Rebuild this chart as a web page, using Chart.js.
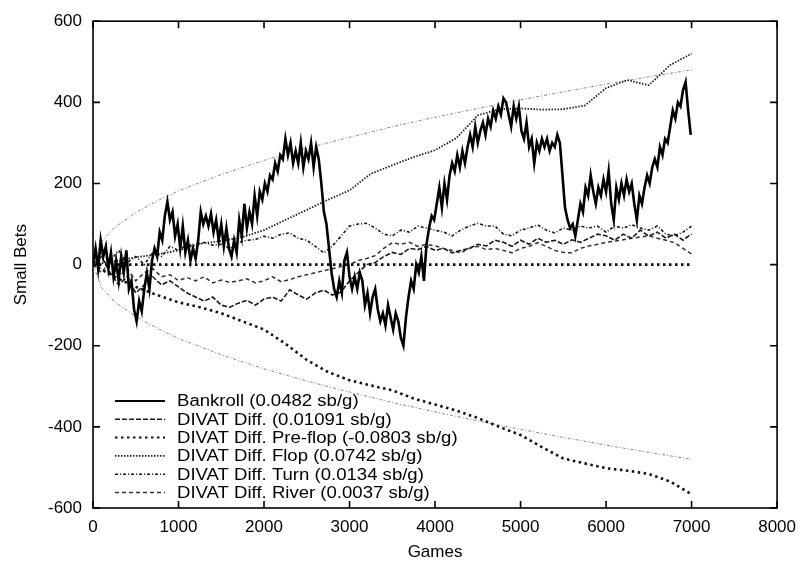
<!DOCTYPE html>
<html>
<head>
<meta charset="utf-8">
<script src="https://cdn.jsdelivr.net/npm/chart.js@4.4.1/dist/chart.umd.min.js"></script>
<style>
  html, body { margin: 0; padding: 0; background: #fff; }
</style>
</head>
<body>
<canvas id="chart" width="805" height="563"></canvas>
<script>
// x ticks / y ticks
const xTicks = [0, 1000, 2000, 3000, 4000, 5000, 6000, 7000, 8000];
const yTicks = [-600, -400, -200, 0, 200, 400, 600];

// bankroll, one value every 30 games
const bankrollStep = 30;
const bankroll = [
  0, 40, -10, 60, 20, 45, -10, 30, -30, 10,
  -40, 20, -20, 35, -60, -40, -110, -140, -90, -115,
  -60, -20, -60, 10, 40, 20, 80, 60, 120, 155,
  110, 130, 70, 100, 40, 95, 30, 60, 10, 40,
  15, 60, 130, 100, 120, 95, 125, 80, 110, 60,
  100, 45, 90, 40, 20, 60, 30, 110, 70, 150,
  90, 130, 100, 170, 120, 180, 160, 200, 180, 220,
  210, 250, 230, 270, 260, 310, 270, 300, 250, 280,
  250, 300, 240, 280, 260, 300, 240, 290, 260, 200,
  130, 100, 40, -20, -60, -80, -40, -70, 10, 30,
  -30, -60, -30, -60, -20, -40, -100, -70, -120, -80,
  -60, -110, -140, -120, -150, -100, -130, -160, -120, -140,
  -180, -200, -130, -80, -40, -60, 0, -20, 20, -40,
  50, 90, 120, 110, 150, 190, 140, 200, 160, 220,
  250, 230, 270, 240, 280, 250, 290, 320, 290, 340,
  300, 330, 350, 320, 360, 340, 380, 360, 390, 370,
  410, 400, 370, 340, 390, 360, 390, 330, 310, 350,
  290, 310, 250, 300, 280, 310, 290, 310, 280, 300,
  290, 320, 300, 220, 140, 110, 90, 100, 70, 110,
  150, 130, 190, 170, 220, 180, 150, 190, 170, 210,
  180, 230, 150, 110, 190, 160, 200, 170, 210, 180,
  200, 150, 110, 170, 150, 190, 220, 200, 240, 260,
  240, 290, 270, 310, 300, 340, 380, 360, 400, 390,
  430, 450, 380, 320
];

// DIVAT series, one value every 100 games
const divatStep = 100;
const divatDiff = [
  0, 20, -20, -50, -30, -70, -50, -30, -50, -40,
  -55, -70, -80, -90, -80, -100, -105, -95, -88, -100,
  -85, -80, -90, -62, -75, -85, -70, -63, -75, -68,
  -40, -20, 0, 5, 20, 30, 25, 40, 37, 45,
  35, 40, 29, 35, 40, 50, 46, 60, 55, 45,
  60, 50, 65, 55, 60, 50, 61, 55, 65, 75,
  71, 60, 75, 65, 85, 70, 80, 65, 75, 60,
  76
];
const divatTurn = [
  0, 30, 10, 35, 5, 20, 0, 30, 20, 45,
  35, 50, 45, 55, 48, 50, 40, 55, 60, 62,
  70, 65, 75, 78, 65, 60, 45, 29, 46, 70,
  95, 100, 102, 90, 75, 71, 85, 80, 95, 90,
  85, 80, 71, 85, 95, 102, 95, 95, 75, 71,
  85, 90, 98, 85, 78, 90, 85, 95, 90, 95,
  80, 95, 90, 98, 90, 85, 95, 75, 71, 80,
  95
];
const divatRiver = [
  0, -20, 10, -30, -10, -40, -20, -10, -30, -25,
  -39, -32, -40, -30, -45, -38, -44, -40, -35, -45,
  -40, -30, -42, -37, -30, -25, -20, -15, -10, -5,
  0, 10, 15, 22, 40, 54, 50, 55, 45, 50,
  46, 40, 35, 29, 40, 45, 37, 40, 35, 29,
  40, 45, 54, 45, 35, 30, 29, 40, 46, 50,
  55, 58, 61, 65, 68, 71, 65, 60, 54, 40,
  26
];

// pre-flop and flop, one value every 250 games
const smoothStep = 250;
const divatPreflop = [
  0, -30, -55, -75, -93, -105, -120, -140, -160, -195,
  -235, -265, -285, -298, -310, -330, -345, -360, -378, -400,
  -420, -450, -478, -490, -502, -508, -516, -535, -566
];
const divatFlop = [
  0, 8, 18, 25, 35, 52, 58, 68, 85, 110,
  135, 160, 183, 224, 245, 265, 282, 312, 368, 383,
  385, 382, 383, 392, 435, 455, 442, 492, 520
];

// +/- one std dev band
const stdGames = [0, 100, 250, 500, 750, 1000, 1500, 2000, 2500, 3000, 3500, 4000, 4500, 5000, 5500, 6000, 6500, 7000];
const stdUpper = [0, 57, 91, 128, 157, 182, 222, 257, 287, 314, 340, 363, 385, 406, 426, 445, 463, 480];
const stdLower = [0, -57, -91, -128, -157, -182, -222, -257, -287, -314, -340, -363, -385, -406, -426, -445, -463, -480];

const zeroGames = [0, 7000];
const zeroLine = [0, 0];

const labels = [
  'Bankroll (0.0482 sb/g)',
  'DIVAT Diff. (0.01091 sb/g)',
  'DIVAT Diff. Pre-flop (-0.0803 sb/g)',
  'DIVAT Diff. Flop (0.0742 sb/g)',
  'DIVAT Diff. Turn (0.0134 sb/g)',
  'DIVAT Diff. River (0.0037 sb/g)'
];

function stepped(values, step) {
  return values.map((v, i) => ({ x: i * step, y: v }));
}
function paired(xs, ys) {
  return xs.map((x, i) => ({ x: x, y: ys[i] }));
}

const FONT = 'Liberation Sans, Arial, Helvetica, sans-serif';

const datasets = [
  { label: labels[0], data: stepped(bankroll, bankrollStep), borderColor: '#000', borderWidth: 2.6, borderDash: [], inLegend: true },
  { label: labels[1], data: stepped(divatDiff, divatStep), borderColor: '#1a1a1a', borderWidth: 1.6, borderDash: [5, 2], inLegend: true },
  { label: labels[2], data: stepped(divatPreflop, smoothStep), borderColor: '#111', borderWidth: 2.6, borderDash: [2.5, 3.5], inLegend: true },
  { label: labels[3], data: stepped(divatFlop, smoothStep), borderColor: '#222', borderWidth: 1.8, borderDash: [1.5, 1.5], inLegend: true },
  { label: labels[4], data: stepped(divatTurn, divatStep), borderColor: '#1a1a1a', borderWidth: 1.6, borderDash: [3, 2, 1, 2], inLegend: true },
  { label: labels[5], data: stepped(divatRiver, divatStep), borderColor: '#333', borderWidth: 1.5, borderDash: [4, 3], inLegend: true },
  { label: 'zero', data: paired(zeroGames, zeroLine), borderColor: '#111', borderWidth: 2.6, borderDash: [2.5, 3.5] },
  { label: 'std+', data: paired(stdGames, stdUpper), borderColor: '#888', borderWidth: 1, borderDash: [3, 2, 1, 2] },
  { label: 'std-', data: paired(stdGames, stdLower), borderColor: '#888', borderWidth: 1, borderDash: [3, 2, 1, 2] }
];
datasets.forEach(d => { d.fill = false; d.pointRadius = 0; d.tension = 0; });

// frame with inward ticks on all four sides
const framePlugin = {
  id: 'frame',
  afterDraw(chart) {
    const ctx = chart.ctx;
    const a = chart.chartArea;
    const xs = chart.scales.x, ys = chart.scales.y;
    ctx.save();
    ctx.strokeStyle = '#000';
    ctx.lineWidth = 1.6;
    ctx.setLineDash([]);
    ctx.strokeRect(a.left, a.top, a.right - a.left, a.bottom - a.top);
    ctx.beginPath();
    xTicks.forEach(t => {
      const px = xs.getPixelForValue(t);
      ctx.moveTo(px, a.bottom); ctx.lineTo(px, a.bottom - 7);
      ctx.moveTo(px, a.top); ctx.lineTo(px, a.top + 7);
    });
    yTicks.forEach(t => {
      const py = ys.getPixelForValue(t);
      ctx.moveTo(a.left, py); ctx.lineTo(a.left + 7, py);
      ctx.moveTo(a.right, py); ctx.lineTo(a.right - 7, py);
    });
    ctx.stroke();
    ctx.restore();
  }
};

// gnuplot style key in lower left corner
const keyPlugin = {
  id: 'key',
  afterDatasetsDraw(chart) {
    const ctx = chart.ctx;
    const items = chart.data.datasets.filter(d => d.inLegend);
    ctx.save();
    items.forEach((d, i) => {
      const y = 401 + i * 18.3;
      ctx.strokeStyle = d.borderColor;
      ctx.lineWidth = Math.min(d.borderWidth, 2);
      ctx.setLineDash(d.borderDash);
      ctx.beginPath();
      ctx.moveTo(115, y);
      ctx.lineTo(165, y);
      ctx.stroke();
      ctx.save();
      ctx.translate(177, y);
      ctx.scale(1.16, 1);
      ctx.fillStyle = '#000';
      ctx.font = '16px ' + FONT;
      ctx.textBaseline = 'middle';
      ctx.fillText(d.label, 0, 1);
      ctx.restore();
    });
    ctx.restore();
  }
};

new Chart(document.getElementById('chart'), {
  type: 'line',
  data: { datasets: datasets },
  options: {
    responsive: false,
    animation: false,
    layout: { padding: { left: 0, right: 25, top: 17, bottom: 0 } },
    plugins: { legend: { display: false }, tooltip: { enabled: false } },
    scales: {
      x: {
        type: 'linear', min: 0, max: 8000,
        afterBuildTicks(s) { s.ticks = xTicks.map(v => ({ value: v })); },
        ticks: { color: '#000', font: { size: 17, family: FONT }, padding: 9, maxRotation: 0, callback: v => String(v) },
        grid: { display: false, drawTicks: false },
        border: { display: false },
        title: { display: true, text: 'Games', color: '#000', font: { size: 17, family: FONT }, padding: { top: 4, bottom: 0 } },
        afterFit(s) { s.height = 55; }
      },
      y: {
        type: 'linear', min: -600, max: 600,
        afterBuildTicks(s) { s.ticks = yTicks.map(v => ({ value: v })); },
        ticks: { color: '#000', font: { size: 17, family: FONT }, padding: 11, callback: v => String(v) },
        grid: { display: false, drawTicks: false },
        border: { display: false },
        title: { display: true, text: 'Small Bets', color: '#000', font: { size: 17, family: FONT }, padding: { top: 11, bottom: 0 } },
        afterFit(s) { s.width = 93; }
      }
    }
  },
  plugins: [framePlugin, keyPlugin]
});
</script>
</body>
</html>
